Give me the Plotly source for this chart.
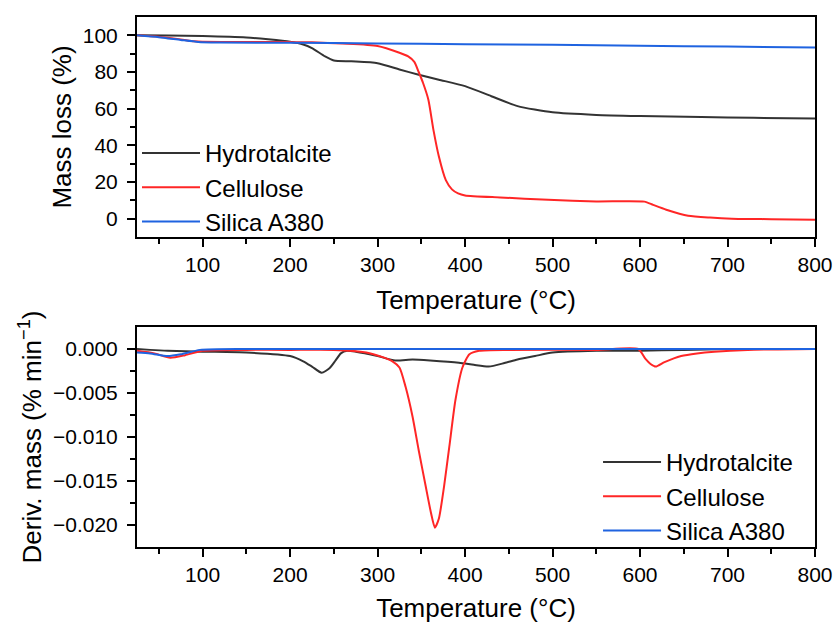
import plotly.graph_objects as go

# ---------------- data ----------------
series_names = ["Hydrotalcite", "Cellulose", "Silica A380"]
series_colors = ["#333333", "#ff2626", "#1f63e0"]

# TGA mass loss (%)
T_hyd = [25, 60, 100, 150, 175, 200, 215, 225, 240, 250, 270, 300, 325, 347, 370, 400, 430, 460, 500, 550, 600, 670, 730, 800]
M_hyd = [100, 99.9, 99.6, 98.8, 97.8, 96.5, 95, 93, 88.5, 86.3, 85.8, 84.8, 81.4, 78.5, 75.8, 72.3, 66.8, 61.4, 58, 56.6, 56, 55.4, 55, 54.6]

T_cel = [25, 50, 75, 90, 100, 150, 200, 225, 260, 300, 325, 335, 342, 347, 352, 358, 364, 370, 378, 385, 392, 400, 440, 495, 550, 605, 615, 630, 655, 680, 705, 750, 800]
M_cel = [100, 99.2, 97.8, 96.8, 96.5, 96.4, 96.3, 96.2, 95.5, 94.2, 90.5, 88.5, 85.5, 80, 74, 65, 48, 34, 21, 16, 13.8, 12.7, 11.6, 10.3, 9.4, 9.3, 7.5, 4.9, 1.6, 0.6, 0.0, -0.3, -0.6]

T_sil = [25, 50, 75, 95, 120, 200, 300, 400, 500, 600, 700, 800]
M_sil = [100, 99, 97.5, 96.4, 96.1, 95.9, 95.6, 95.2, 94.8, 94.3, 93.9, 93.3]

# DTG derivative mass (% min^-1)
T_hd = [25, 40, 60, 100, 150, 200, 215, 225, 236, 245, 252, 258, 265, 275, 300, 320, 340, 360, 393, 410, 427, 445, 460, 480, 500, 550, 600, 650, 700, 800]
D_hd = [0.0, -0.0001, -0.0002, -0.0003, -0.0004, -0.0008, -0.0014, -0.002, -0.0027, -0.0022, -0.0013, -0.0005, -0.0002, -0.0003, -0.0008, -0.0013, -0.0012, -0.0013, -0.00155, -0.0018, -0.002, -0.0016, -0.0012, -0.0008, -0.0004, -0.0002, -0.0002, -0.0001, 0.0, 0.0]

T_cd = [25, 45, 63, 80, 100, 150, 200, 250, 287, 305, 317, 325, 332, 340, 347, 355, 361, 365.5, 370, 376, 382, 389, 397, 405, 416, 450, 550, 598, 606, 612, 618, 628, 647, 665, 685, 723, 800]
D_cd = [-0.0002, -0.0005, -0.001, -0.0007, -0.0002, -0.0001, -0.0001, -0.0001, -0.0004, -0.0009, -0.0014, -0.0021, -0.0043, -0.0077, -0.0115, -0.0156, -0.0186, -0.0203, -0.0193, -0.0156, -0.0111, -0.0058, -0.0021, -0.0006, -0.0002, -0.0001, -0.0001, 0.0, -0.0011, -0.0017, -0.002, -0.0015, -0.0008, -0.0005, -0.0003, -0.0001, 0.0]

T_sd = [25, 40, 60, 75, 97, 150, 300, 500, 800]
D_sd = [-0.0004, -0.0005, -0.0008, -0.0006, -0.0001, 0.0, 0.0, 0.0, 0.0]

x_ticks = [100, 200, 300, 400, 500, 600, 700, 800]
y1_ticks = [0, 20, 40, 60, 80, 100]
y2_ticks = [0.0, -0.005, -0.010, -0.015, -0.020]
y2_ticktext = ["0.000", "−0.005", "−0.010", "−0.015", "−0.020"]

# ---------------- figure ----------------
FONT = "Liberation Sans, Arial, sans-serif"
TICK_SIZE = 21
TITLE_SIZE = 26
LEGEND_SIZE = 24

fig = go.Figure()

top = [(T_hyd, M_hyd), (T_cel, M_cel), (T_sil, M_sil)]
bot = [(T_hd, D_hd), (T_cd, D_cd), (T_sd, D_sd)]

for (x, y), name, col in zip(top, series_names, series_colors):
    fig.add_trace(go.Scatter(x=x, y=y, name=name, mode="lines",
                             line=dict(color=col, width=2, shape="spline", smoothing=0.6),
                             xaxis="x", yaxis="y", legend="legend"))
for (x, y), name, col in zip(bot, series_names, series_colors):
    fig.add_trace(go.Scatter(x=x, y=y, name=name, mode="lines",
                             line=dict(color=col, width=2, shape="spline", smoothing=0.6),
                             xaxis="x2", yaxis="y2", legend="legend2"))

axis_common = dict(showline=True, linewidth=2, linecolor="black", mirror=True,
                   ticks="outside", ticklen=8, tickwidth=2, tickcolor="black",
                   showgrid=False, zeroline=False, automargin=False,
                   tickfont=dict(family=FONT, size=TICK_SIZE, color="black"))

xcommon = dict(axis_common, range=[25, 800], tickmode="array", tickvals=x_ticks,
               minor=dict(tickmode="array", tickvals=[50, 150, 250, 350, 450, 550, 650, 750],
                          ticks="outside", ticklen=5, tickwidth=2, tickcolor="black"))

fig.update_layout(
    width=838, height=623,
    margin=dict(l=137, r=23, t=17, b=76),
    paper_bgcolor="white", plot_bgcolor="white",
    font=dict(family=FONT, color="black"),
    showlegend=True,
    xaxis=dict(xcommon, domain=[0, 1], anchor="y",
               title=dict(text="Temperature (°C)", font=dict(family=FONT, size=TITLE_SIZE), standoff=16)),
    yaxis=dict(axis_common, domain=[0.5849, 1], anchor="x", range=[-10, 110],
               tickmode="array", tickvals=y1_ticks, ticklabelstandoff=5,
               minor=dict(tickmode="array", tickvals=[10, 30, 50, 70, 90],
                          ticks="outside", ticklen=5, tickwidth=2, tickcolor="black"),
               title=dict(text="Mass loss (%)", font=dict(family=FONT, size=TITLE_SIZE), standoff=4)),
    xaxis2=dict(xcommon, domain=[0, 1], anchor="y2",
                title=dict(text="Temperature (°C)", font=dict(family=FONT, size=TITLE_SIZE), standoff=17)),
    yaxis2=dict(axis_common, domain=[0, 0.4151], anchor="x2", range=[-0.0225, 0.0025],
                tickmode="array", tickvals=y2_ticks, ticktext=y2_ticktext, ticklabelstandoff=5,
                minor=dict(tickmode="array", tickvals=[-0.0025, -0.0075, -0.0125, -0.0175],
                           ticks="outside", ticklen=5, tickwidth=2, tickcolor="black"),
                title=dict(text="Deriv. mass (% min<sup>−1</sup>)", font=dict(family=FONT, size=TITLE_SIZE), standoff=4)),
    legend=dict(x=0.0, y=0.785, xanchor="left", yanchor="top", bgcolor="rgba(0,0,0,0)",
                font=dict(family=FONT, size=LEGEND_SIZE, color="black"), itemwidth=58,
                tracegroupgap=0),
    legend2=dict(x=0.68, y=0.202, xanchor="left", yanchor="top", bgcolor="rgba(0,0,0,0)",
                 font=dict(family=FONT, size=LEGEND_SIZE, color="black"), itemwidth=58,
                 tracegroupgap=0),
)

fig.write_html("out.html")
